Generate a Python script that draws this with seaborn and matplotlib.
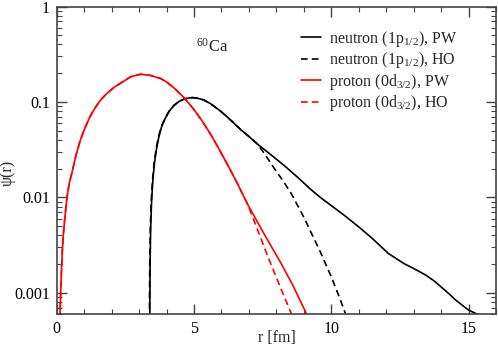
import matplotlib
matplotlib.use("Agg")
import matplotlib.pyplot as plt
import matplotlib.ticker as mticker
import seaborn as sns
import numpy as np

# ---- data ----
r_n_pw = [3.388, 3.40, 3.42, 3.45, 3.50, 3.56, 3.64, 3.72, 3.82, 3.95, 4.10, 4.27, 4.45, 4.63,
          4.80, 4.95, 5.15, 5.35, 5.60, 5.97, 6.30, 6.71, 7.00, 7.32, 7.80, 8.29, 8.80, 9.27,
          9.60, 10.00, 10.50, 11.04, 11.50, 12.07, 12.40, 12.68, 13.00, 13.45, 13.75, 14.02,
          14.30, 14.51, 14.75, 15.00, 15.30, 15.60]
psi_n_pw = [0.0004, 0.0019, 0.0045, 0.0085, 0.015, 0.023, 0.033, 0.043, 0.055, 0.067, 0.080,
            0.092, 0.101, 0.107, 0.110, 0.111, 0.109, 0.105, 0.096, 0.080, 0.066, 0.051, 0.0435,
            0.0360, 0.0280, 0.0215, 0.0160, 0.0120, 0.0100, 0.0082, 0.0064, 0.0048, 0.0037,
            0.0026, 0.00225, 0.00200, 0.00180, 0.00153, 0.00133, 0.00114, 0.00097, 0.00085,
            0.00075, 0.00066, 0.00060, 0.00058]

r_n_ho = [3.375, 3.387, 3.407, 3.437, 3.487, 3.547, 3.627, 3.707, 3.807, 3.94, 4.09, 4.27,
          4.45, 4.63, 4.80, 4.95, 5.15, 5.35, 5.60, 5.97, 6.30, 6.71, 7.00, 7.32, 7.60, 7.93,
          8.25, 8.54, 9.00, 9.24, 9.60, 10.00, 10.30, 10.60]
psi_n_ho = [0.0004, 0.0019, 0.0045, 0.0085, 0.015, 0.023, 0.033, 0.043, 0.055, 0.067, 0.080,
            0.092, 0.101, 0.107, 0.110, 0.111, 0.109, 0.105, 0.096, 0.080, 0.066, 0.051, 0.0435,
            0.0360, 0.0278, 0.0200, 0.0148, 0.0110, 0.0062, 0.00443, 0.00269, 0.00147,
            0.00089, 0.00052]

r_p_pw = [0.10, 0.12, 0.146, 0.17, 0.205, 0.25, 0.30, 0.37, 0.45, 0.55, 0.70, 0.85, 1.00,
          1.20, 1.40, 1.60, 1.83, 2.10, 2.40, 2.70, 3.05, 3.40, 3.78, 4.00, 4.30, 4.65, 5.00,
          5.30, 5.65, 5.98, 6.30, 6.59, 6.95, 7.50, 8.17, 8.60, 9.10, 9.25]
psi_p_pw = [0.0004, 0.00058, 0.00105, 0.0016, 0.0028, 0.0044, 0.0063, 0.0098, 0.0138, 0.0179,
            0.0275, 0.039, 0.051, 0.069, 0.087, 0.105, 0.123, 0.143, 0.162, 0.184, 0.195, 0.190,
            0.176, 0.162, 0.138, 0.110, 0.083, 0.063, 0.0437, 0.0295, 0.020, 0.0138, 0.0085,
            0.0044, 0.00204, 0.0012, 0.0006, 0.00049]

r_p_ho = [0.10, 0.12, 0.146, 0.17, 0.205, 0.25, 0.30, 0.37, 0.45, 0.55, 0.70, 0.85, 1.00,
          1.20, 1.40, 1.60, 1.83, 2.10, 2.40, 2.70, 3.05, 3.40, 3.78, 4.00, 4.30, 4.65, 5.00,
          5.30, 5.65, 5.98, 6.30, 6.59, 6.95, 7.30, 7.69, 8.10, 8.55, 8.68]
psi_p_ho = [0.0004, 0.00058, 0.00105, 0.0016, 0.0028, 0.0044, 0.0063, 0.0098, 0.0138, 0.0179,
            0.0275, 0.039, 0.051, 0.069, 0.087, 0.105, 0.123, 0.143, 0.162, 0.184, 0.195, 0.190,
            0.176, 0.162, 0.138, 0.110, 0.083, 0.063, 0.0437, 0.0295, 0.020, 0.0138, 0.0085,
            0.0047, 0.0024, 0.00123, 0.0006, 0.00048]

labels = [r"neutron (1p$_{1/2}$), PW", r"neutron (1p$_{1/2}$), HO",
          r"proton (0d$_{3/2}$), PW", r"proton (0d$_{3/2}$), HO"]
y_ticks = [0.001, 0.01, 0.1, 1]
y_tick_labels = ["0.001", "0.01", "0.1", "1"]
x_ticks = [0, 5, 10, 15]

# ---- style ----
sns.set_style("ticks")
plt.rcParams["font.family"] = ["Liberation Serif", "DejaVu Serif"]
plt.rcParams["mathtext.fontset"] = "custom"
plt.rcParams["mathtext.rm"] = "Liberation Serif"
plt.rcParams["mathtext.it"] = "Liberation Serif:italic"
plt.rcParams["mathtext.default"] = "rm"

fig = plt.figure(figsize=(4.98, 3.48), dpi=100)
ax = fig.add_axes([0.1139, 0.0977, 0.8821, 0.8836])

lw = 1.2
dash = (0, (4, 2.5))
sns.lineplot(x=r_n_pw, y=psi_n_pw, ax=ax, color="black", lw=lw, sort=False,
             estimator=None, label=labels[0])
sns.lineplot(x=r_n_ho, y=psi_n_ho, ax=ax, color="black", lw=lw, sort=False,
             estimator=None, label=labels[1], linestyle=dash)
sns.lineplot(x=r_p_pw, y=psi_p_pw, ax=ax, color="#ff0000", lw=lw, sort=False,
             estimator=None, label=labels[2])
sns.lineplot(x=r_p_ho, y=psi_p_ho, ax=ax, color="#ff0000", lw=lw, sort=False,
             estimator=None, label=labels[3], linestyle=dash)

ax.set_yscale("log")
ax.set_xlim(0, 16)
ax.set_ylim(0.0006, 1)
ax.set_xticks(x_ticks)
ax.set_xticklabels([str(t) for t in x_ticks])
ax.xaxis.set_minor_locator(mticker.MultipleLocator(1))
ax.set_yticks(y_ticks)
ax.set_yticklabels(y_tick_labels)
ax.yaxis.set_minor_locator(mticker.LogLocator(base=10, subs=np.arange(2, 10)))
ax.yaxis.set_minor_formatter(mticker.NullFormatter())

spine_col = "#444444"
for s in ax.spines.values():
    s.set_color(spine_col)
    s.set_linewidth(1.2)
ax.tick_params(which="both", direction="in", top=True, right=True, colors=spine_col,
               labelcolor="black", labelsize=11.5)
ax.tick_params(which="major", length=7, width=1.0, pad=5)
ax.tick_params(which="minor", length=3.5, width=0.8)

ax.set_xlabel("r [fm]", fontsize=11.5)
ax.xaxis.set_label_coords(0.501, -0.052)
ax.set_ylabel("ψ(r)", fontsize=11.5)
ax.yaxis.set_label_coords(-0.093, 0.46)

ax.text(0.318, 0.868, r"$^{60}$Ca", transform=ax.transAxes, fontsize=12,
        ha="left", va="center")

leg = ax.legend(loc="upper left", bbox_to_anchor=(0.555, 0.928), frameon=False,
                fontsize=11.5, handlelength=1.3, handletextpad=0.5, labelspacing=0.1,
                borderpad=0, borderaxespad=0)

fig.savefig("out.png", dpi=100)
